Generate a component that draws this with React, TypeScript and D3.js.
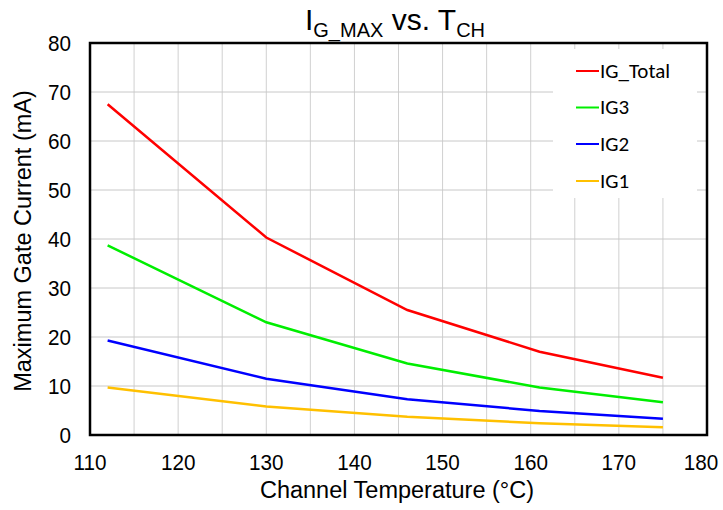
import React from "react";
import * as d3 from "d3";

const temps = [112, 130, 146, 161, 175];
const igTotal = [67.5, 40.3, 25.5, 17.0, 11.7];
const ig3 = [38.7, 23.0, 14.6, 9.7, 6.7];
const ig2 = [19.3, 11.5, 7.3, 4.9, 3.3];
const ig1 = [9.7, 5.8, 3.7, 2.4, 1.6];
const seriesNames = ["IG_Total", "IG3", "IG2", "IG1"];
const seriesColors = ["#ff0000", "#00ee00", "#0000ff", "#ffc000"];
const xTicks = [110, 120, 130, 140, 150, 160, 170, 180];
const yTicks = [0, 10, 20, 30, 40, 50, 60, 70, 80];

const W = 723, H = 510;
const L = 90, R = 707, T = 43, B = 435;
const axisFont = "'Liberation Sans', Arial, sans-serif";
const legendFont = "Carlito, Calibri, 'Open Sans', sans-serif";

export default function App() {
  const x = d3.scaleLinear().domain([110, 180]).range([L, R]);
  const y = d3.scaleLinear().domain([0, 80]).range([B, T]);
  const seriesData = [igTotal, ig3, ig2, ig1];
  const line = d3.line<[number, number]>().x(d => x(d[0])).y(d => y(d[1]));
  const minorX = d3.range(110, 181, 5);
  const legY = [71, 107.5, 144, 181];
  return (
    <svg width={W} height={H} style={{ position: "absolute", left: 0, top: 0, background: "#fff" }}>
      {minorX.map(v => (
        <line key={"vx" + v} x1={x(v)} x2={x(v)} y1={T} y2={B} stroke="#d0d0d0" strokeWidth={1} />
      ))}
      {yTicks.map(v => (
        <line key={"hy" + v} x1={L} x2={R} y1={y(v)} y2={y(v)} stroke="#c8c8c8" strokeWidth={1} />
      ))}
      <rect x={553} y={49} width={144} height={149} fill="#fff" />
      {seriesData.map((s, i) => (
        <path key={"s" + i} d={line(temps.map((t, j) => [t, s[j]]) as [number, number][]) || ""}
          fill="none" stroke={seriesColors[i]} strokeWidth={2.5} />
      ))}
      <rect x={L} y={T} width={R - L} height={B - T} fill="none" stroke="#000" strokeWidth={2.5} />
      {yTicks.map(v => (
        <text key={"yt" + v} transform={`translate(71,${y(v) + 7.5}) scale(0.92,1)`} textAnchor="end" fontFamily={axisFont} fontSize={22.5} fill="#000">{v}</text>
      ))}
      {xTicks.map(v => (
        <text key={"xt" + v} transform={`translate(${Math.min(x(v), 701)},470) scale(0.92,1)`} textAnchor="middle" fontFamily={axisFont} fontSize={22.5} fill="#000">{v}</text>
      ))}
      <text x={397} y={497.5} textAnchor="middle" fontFamily={axisFont} fontSize={23.5} fill="#000">Channel Temperature (°C)</text>
      <text transform={`translate(31,241) rotate(-90)`} textAnchor="middle" fontFamily={axisFont} fontSize={23.5} fill="#000">Maximum Gate Current (mA)</text>
      <text x={395} y={30} textAnchor="middle" fontFamily={axisFont} fontSize={30} fill="#000">
        I<tspan fontSize={20} dy={7}>G_MAX</tspan><tspan dy={-7}> vs. T</tspan><tspan fontSize={20} dy={7}>CH</tspan>
      </text>
      {seriesNames.map((n, i) => (
        <g key={"lg" + i}>
          <line x1={576} x2={599} y1={legY[i]} y2={legY[i]} stroke={seriesColors[i]} strokeWidth={2} />
          <text x={600} y={legY[i] + 6.5} fontFamily={legendFont} fontSize={21} fill="#000">{n}</text>
        </g>
      ))}
    </svg>
  );
}
